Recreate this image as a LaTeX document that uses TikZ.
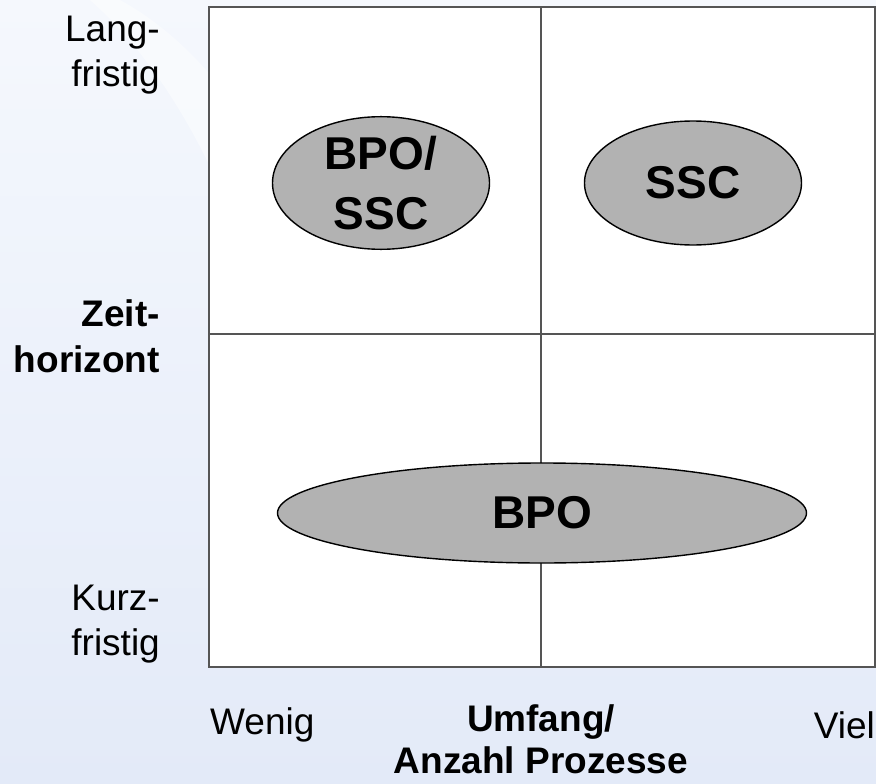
\documentclass[tikz,border=0pt]{standalone}
\usepackage{fontspec}
\setmainfont{Liberation Sans}
\usetikzlibrary{shapes.geometric}
\definecolor{bgtop}{HTML}{F5F8FD}
\definecolor{bgbot}{HTML}{E3EAF8}
\definecolor{frame}{HTML}{555555}
\definecolor{blob}{HTML}{B2B2B2}
\tikzset{
  axislabel/.style={font=\fontsize{37}{45}\selectfont, inner sep=0pt, align=right},
  axisbold/.style={axislabel, font=\fontsize{37}{46}\selectfont\bfseries},
  field/.style={ellipse, draw=black, line width=1.4pt, fill=blob, inner sep=0pt,
    font=\fontsize{46}{60}\selectfont\bfseries, align=center},
}
\begin{document}
\begin{tikzpicture}[x=1pt,y=-1pt]
  % page and background
  \useasboundingbox (0,0) rectangle (876,784);
  \shade[top color=bgtop, bottom color=bgbot] (0,0) rectangle (876,784);
  \fill[white, opacity=0.45] (120,0) .. controls (230,60) and (300,200) .. (330,300)
     -- (260,300) .. controls (230,190) and (170,70) .. (90,0) -- cycle;

  % portfolio grid
  \fill[white] (209,7) rectangle (875,667);
  \draw[frame, line width=1.2pt] (541,7) -- (541,667);
  \draw[frame, line width=1.2pt] (209,334) -- (875,334);
  \draw[frame, line width=2.2pt] (209,7) rectangle (875,667);

  % fields
  \node[field, minimum width=217, minimum height=124] (bposcc) at (381,183) {BPO/\\SSC};
  \node[field, minimum width=217, minimum height=124] (ssc) at (693,183) {SSC};
  \node[field, minimum width=529, minimum height=100] (bpo) at (542,513) {BPO};

  % vertical axis
  \node[axislabel, anchor=east] (lang) at (160,55) {Lang-\\fristig};
  \node[axisbold, anchor=east] (zeit) at (160,336) {Zeit-\\horizont};
  \node[axislabel, anchor=east] (kurz) at (160,624) {Kurz-\\fristig};

  % horizontal axis
  \node[axislabel, anchor=west] (wenig) at (210,725) {Wenig};
  \node[axisbold, align=center, font=\fontsize{37}{42}\selectfont\bfseries]
    (umfang) at (541,739) {Umfang/\\Anzahl Prozesse};
  \node[axislabel, anchor=east] (viel) at (875,725) {Viel};
\end{tikzpicture}
\end{document}
